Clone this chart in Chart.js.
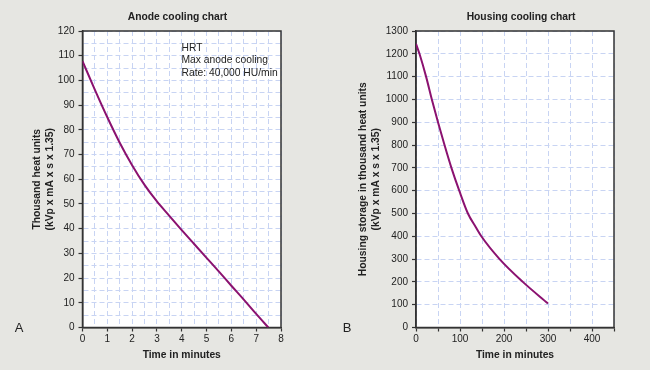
<!DOCTYPE html>
<html>
<head>
<meta charset="utf-8">
<script src="https://cdn.jsdelivr.net/npm/chart.js@4/dist/chart.umd.min.js"></script>
<style>
    body {
        margin: 0;
        background: #e6e6e2;
        font-family: 'Liberation Sans', Arial, sans-serif;
        color: #222;
    }
    #wrap {
        position: relative;
        width: 650px;
        height: 370px;
        overflow: hidden;
    }
    canvas {
        position: absolute;
        top: 0;
    }
    .title {
        position: absolute;
        top: 10px;
        width: 200px;
        text-align: center;
        font-size: 10.3px;
        font-weight: bold;
        line-height: 13px;
    }
    .panel {
        position: absolute;
        top: 320px;
        width: 20px;
        text-align: center;
        font-size: 13px;
        line-height: 15px;
    }
    .note {
        position: absolute;
        left: 181.5px;
        top: 42px;
        font-size: 10.3px;
        line-height: 12.3px;
    }
</style>
</head>
<body>
<div id="wrap">
    <canvas id="anodeChart" width="325" height="370" style="left:0"></canvas>
    <canvas id="housingChart" width="325" height="370" style="left:325px"></canvas>

    <div class="title" style="left:77.5px">Anode cooling chart</div>
    <div class="title" style="left:421px">Housing cooling chart</div>

    <div class="note">HRT<br>Max anode cooling<br>Rate: 40,000 HU/min</div>

    <div class="panel" style="left:9px">A</div>
    <div class="panel" style="left:337px">B</div>
</div>

<script>

// DATA

const anodeMinutes = [0, 0.5, 1, 1.5, 2, 2.5, 3, 3.5, 4, 4.5, 5, 5.5, 6, 6.5, 7, 7.49];
const anodeHeat = [107.8, 96.2, 85.1, 74.8, 65.7, 57.7, 51, 45.2, 39.4, 33.8, 28.2, 22.6, 16.9, 11.3, 5.5, 0];

const housingMinutes = [0, 7.9, 22.9, 36, 50, 64.8, 80.5, 98.3, 118, 136, 148.5, 190, 242.7, 300];
const housingHeat = [1244, 1200, 1100, 1000, 900, 800, 700, 600, 500, 440, 400, 300, 200, 105];

const anodeXTicks = { max: 8, step: 0.5, label: 1 };
const anodeYTicks = { max: 120, step: 5, label: 10 };
const housingXTicks = { max: 450, step: 50, label: 100 };
const housingYTicks = { max: 1300, step: 100, label: 100 };


// STYLE

const FONT = "'Liberation Sans', Arial, sans-serif";
const CURVE = '#8b1270';
const GRID = '#c8d4f3';
const AXIS = '#333333';


// WHITE PLOT AREA + FRAME

const framePlugin = {
    id: 'frame',
    beforeDraw(chart) {
        const a = chart.chartArea;
        const c = chart.ctx;
        c.save();
        c.fillStyle = '#ffffff';
        c.fillRect(a.left, a.top, a.right - a.left, a.bottom - a.top);
        c.restore();
    },
    beforeDatasetsDraw(chart) {
        const a = chart.chartArea;
        const c = chart.ctx;
        c.save();
        c.strokeStyle = AXIS;
        c.lineWidth = 1.5;
        c.strokeRect(a.left, a.top, a.right - a.left, a.bottom - a.top);
        c.restore();
    }
};


function isLabelled(value, every, max) {
    const r = value / every;
    return Math.abs(r - Math.round(r)) < 1e-6 && value < max + 1e-6;
}


function makeAxis(t, labelMax, fit, title, titlePad) {
    return {
        type: 'linear',
        min: 0,
        max: t.max,
        afterFit: fit,
        ticks: {
            stepSize: t.step,
            autoSkip: false,
            maxRotation: 0,
            padding: title.axis === 'x' ? 2 : 4,
            color: '#222',
            font: { family: FONT, size: 10 },
            callback: (v) => isLabelled(v, t.label, labelMax) ? String(v) : ''
        },
        grid: {
            color: GRID,
            lineWidth: 1,
            tickLength: 4,
            tickWidth: 1.2,
            tickColor: (ctx) => ctx.tick && (isLabelled(ctx.tick.value, t.label, t.max) || title.allTicks) ? AXIS : 'rgba(0,0,0,0)'
        },
        border: {
            color: AXIS,
            width: 1.5,
            dash: [5, 3]
        },
        title: {
            display: true,
            text: title.text,
            color: '#222',
            font: { family: FONT, size: 10.3, weight: 'bold', lineHeight: 1.25 },
            padding: titlePad
        }
    };
}


function makeChart(id, xs, ys, xt, yt, opts) {
    const ctx = document.getElementById(id);

    return new Chart(ctx, {
        type: 'line',

        data: {
            datasets: [{
                data: xs.map((x, i) => ({ x: x, y: ys[i] })),
                borderColor: CURVE,
                borderWidth: 2,
                pointRadius: 0,
                cubicInterpolationMode: 'monotone',
                fill: false
            }]
        },

        options: {
            responsive: false,
            animation: false,
            layout: {
                padding: { left: 0, right: opts.right, top: 31, bottom: 0 }
            },
            plugins: {
                legend: { display: false },
                tooltip: { enabled: false }
            },
            scales: {
                x: makeAxis(
                    xt, opts.xLabelMax,
                    (s) => { s.height = 42.5; },
                    { axis: 'x', text: 'Time in minutes', allTicks: opts.xAllTicks },
                    { top: 0, bottom: 8.5 }
                ),
                y: makeAxis(
                    yt, yt.max,
                    (s) => { s.width = opts.yWidth; },
                    { axis: 'y', text: opts.yTitle, allTicks: false },
                    { top: opts.yTitlePad, bottom: 0 }
                )
            }
        },

        plugins: [framePlugin]
    });
}


// CHARTS

makeChart('anodeChart', anodeMinutes, anodeHeat, anodeXTicks, anodeYTicks, {
    right: 44,
    yWidth: 82.5,
    yTitlePad: 30.5,
    xLabelMax: 8,
    xAllTicks: false,
    yTitle: ['Thousand heat units', '(kVp x mA x s x 1.35)']
});

makeChart('housingChart', housingMinutes, housingHeat, housingXTicks, housingYTicks, {
    right: 36,
    yWidth: 91,
    yTitlePad: 31.5,
    xLabelMax: 400,
    xAllTicks: true,
    yTitle: ['Housing storage in thousand heat units', '(kVp x mA x s x 1.35)']
});

</script>
</body>
</html>
